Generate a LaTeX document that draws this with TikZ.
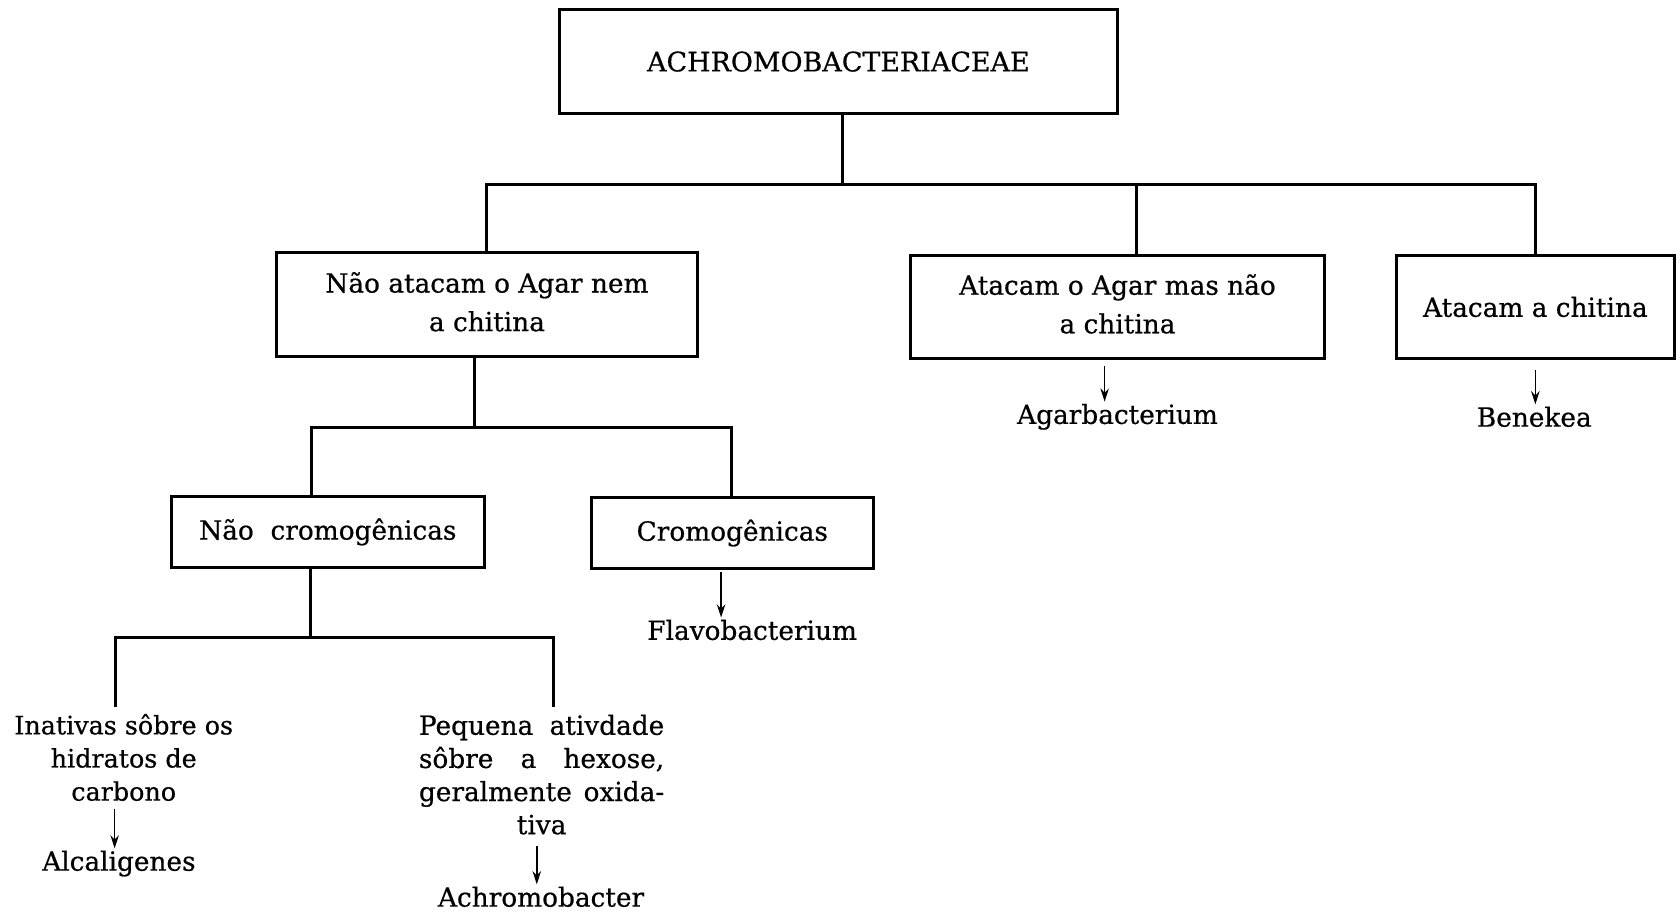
\documentclass[tikz,border=0pt]{standalone}
\usepackage{fontspec}
\setmainfont{DejaVu Serif}[FakeBold=0.6]
\usetikzlibrary{arrows.meta}
\begin{document}
\begin{tikzpicture}[x=0.02cm,y=-0.02cm,
  box/.style={draw, line width=1.6pt, align=center, inner sep=0pt, font=\fontsize{14}{20.5}\selectfont},
  conn/.style={line width=1.6pt},
  arr/.style={line width=0.8pt, -{Stealth[length=7pt,width=4.5pt]}},
  lbl/.style={inner sep=1pt, font=\fontsize{14}{17}\selectfont},
  desc/.style={inner sep=0pt, align=center, font=\fontsize{13.5}{17.6}\selectfont}]
\useasboundingbox (0,0) rectangle (1568,851);
% boxes
\node[box, minimum width=10.42cm, minimum height=1.94cm, font=\fontsize{14.3}{16}\selectfont] (top) at (782.5,57.5) {ACHROMOBACTERIACEAE};
\node[box, minimum width=7.86cm, minimum height=1.94cm] (A) at (454.5,284.5) {Não atacam o Agar nem\\a chitina\rule[-3.4pt]{0pt}{0pt}};
\node[box, minimum width=7.72cm, minimum height=1.94cm] (B) at (1043,286.5) {Atacam o Agar mas não\\a chitina\rule[-3.4pt]{0pt}{0pt}};
\node[box, minimum width=5.2cm, minimum height=1.94cm] (C) at (1433,286.5) {Atacam a chitina};
\node[box, minimum width=5.84cm, minimum height=1.34cm] (D) at (306,496.5) {Não\ \ cromogênicas};
\node[box, minimum width=5.26cm, minimum height=1.34cm] (E) at (683.5,497.5) {Cromogênicas};
% leaf texts
\node[lbl] (agar) at (1043,389) {Agarbacterium};
\node[lbl] (bene) at (1432,389) {Benekea};
\node[lbl] (flavo) at (702,588) {Flavobacterium};
\node[desc] (inat) at (115.5,707) {Inativas sôbre os\\hidratos de\\carbono};
\node[desc, font=\fontsize{14}{17.6}\selectfont] (peq) at (505.5,723) {\makebox[4.58cm][s]{Pequena ativdade}\\\makebox[4.58cm][s]{sôbre a hexose,}\\\makebox[4.58cm][s]{geralmente oxida-}\\tiva};
\node[lbl] (alca) at (111,806) {Alcaligenes};
\node[lbl] (achro) at (505,837) {Achromobacter};
% tree connectors
\coordinate (j1) at (786,172);
\draw[conn] (j1 |- top.south) -- (j1);
\draw[conn] (A.north) |- (C.north |- j1) -- (C.north);
\coordinate (jb) at (1061,172);
\draw[conn] (jb) -- (jb |- B.north);
\coordinate (j2) at (443,399);
\draw[conn] (j2 |- A.south) -- (j2);
\coordinate (jd) at (291,399);
\coordinate (je) at (683,399);
\draw[conn] (jd |- D.north) -- (jd) -- (je) -- (je |- E.north);
\coordinate (j3) at (290,595);
\draw[conn] (j3 |- D.south) -- (j3);
\coordinate (jf) at (108,595);
\coordinate (jg) at (517,595);
\coordinate (ef) at (108,660);
\coordinate (eg) at (517,660);
\draw[conn] (ef) -- (jf) -- (jg) -- (eg);
% arrows
\coordinate (aB) at (1031,342);
\draw[arr] (aB) -- (aB |- agar.north);
\coordinate (aC) at (1433,345);
\draw[arr] (aC) -- (aC |- bene.north);
\coordinate (aE) at (673,534);
\draw[arr] (aE) -- (aE |- flavo.north);
\coordinate (aF) at (107,755);
\draw[arr] (aF) -- (aF |- alca.north);
\coordinate (aG) at (501,790);
\draw[arr] (aG) -- (aG |- achro.north);
\end{tikzpicture}
\end{document}
